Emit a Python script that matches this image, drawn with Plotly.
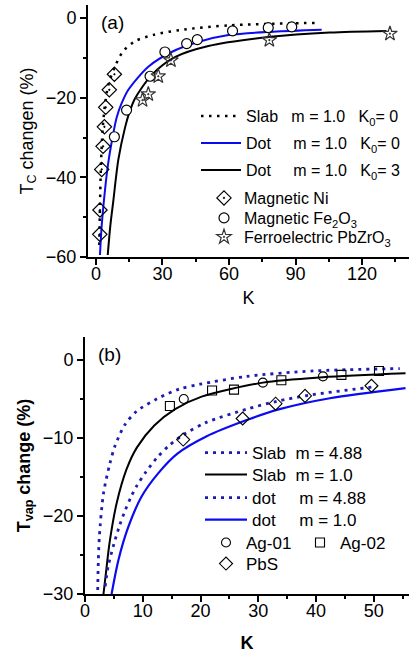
import plotly.graph_objects as go

W, H = 410, 656

# ---------------- Panel (a) data ----------------
slab_a_k = [1.5, 1.8, 2.3, 3.0, 4.0, 5.5, 8.5, 12.3, 17.6, 25.9, 37.9, 60.4, 98.8]
slab_a_y = [-57, -47, -36, -28, -22, -17, -12.2, -8.3, -5.8, -4.2, -3.0, -1.8, -1.2]

dot0_a_k = [1.8, 2.6, 4.1, 5.5, 6.8, 9.3, 11.5, 14.6, 23.6, 34.1, 46.1, 60.4, 80.0, 101.8]
dot0_a_y = [-59.5, -52, -43, -36.5, -32, -25.0, -21.5, -18, -12.2, -8.5, -6.0, -4.2, -3.4, -2.9]

dot3_a_k = [5.3, 6.5, 7.8, 10.1, 13.1, 15.0, 17.6, 25.1, 35.6, 50.7, 78.5, 105.5, 131.0]
dot3_a_y = [-59.5, -52, -46, -35.5, -27.5, -23.8, -20.2, -14.3, -9.8, -7.0, -4.7, -3.6, -3.2]

ni_k = [8.3, 6.0, 4.4, 3.8, 3.2, 2.6, 1.8, 1.7]
ni_y = [-14.1, -18.0, -22.4, -27.3, -32.2, -38.0, -48.2, -54.3]

fe_k = [8.3, 13.8, 24.4, 31.1, 40.9, 45.7, 61.6, 77.7, 88.3]
fe_y = [-29.8, -23.1, -14.6, -8.5, -6.4, -5.4, -3.2, -2.4, -2.2]

pzo_k = [21.0, 23.6, 28.1, 33.8, 78.2, 132.6]
pzo_y = [-20.6, -19.1, -14.6, -10.6, -5.5, -3.9]

# ---------------- Panel (b) data ----------------
slab488_k = [2.2, 2.3, 2.5, 3.2, 4.3, 5.2, 6.9, 8.9, 12.4, 16.4, 19.9, 28.0, 39.5, 54.5]
slab488_y = [-29.5, -26, -22.5, -17.1, -13.3, -11.0, -8.3, -6.6, -5.0, -3.7, -3.1, -2.1, -1.4, -1.1]

slab10_k = [3.2, 3.7, 4.3, 5.5, 7.2, 9.0, 12.0, 15.6, 20.2, 30.8, 41.2, 55.5]
slab10_y = [-30, -26.8, -23.2, -18.3, -14.0, -11.2, -8.4, -6.3, -4.7, -2.9, -2.2, -1.7]

dot488_k = [3.5, 4.0, 5.0, 6.0, 7.0, 8.0, 9.0, 10.5, 12.5, 14.5, 17.0, 21.0, 28.0, 33.2, 38.9, 50.5]
dot488_y = [-29, -26.5, -23.6, -21.2, -19.2, -17.5, -16.1, -14.4, -12.5, -11.0, -9.6, -8.0, -6.3, -5.3, -4.5, -3.4]

dot10_k = [4.6, 5.8, 7.5, 9.8, 12.7, 16.0, 21.0, 28.0, 33.7, 42.4, 55.5]
dot10_y = [-30, -25.6, -21.4, -17.5, -14.5, -12.0, -9.8, -7.7, -6.3, -4.9, -3.6]

ag01_k = [17.1, 30.8, 41.2]
ag01_y = [-5.0, -2.9, -2.1]

ag02_k = [14.7, 22.0, 25.8, 34.0, 44.4, 50.9]
ag02_y = [-5.9, -3.9, -3.8, -2.6, -1.9, -1.4]

pbs_k = [17.0, 27.3, 33.0, 38.1, 49.6]
pbs_y = [-10.2, -7.5, -5.6, -4.6, -3.3]

FONT = "Arial, Liberation Sans, sans-serif"
BLUE = "#0b0bf0"
NAVY = "#1c1cb4"
NB = "\u00a0"

fig = go.Figure()

def add(k, y, name, leg, ax, **kw):
    fig.add_trace(go.Scatter(x=k, y=y, name=name, legend=leg, xaxis="x" + ax, yaxis="y" + ax, **kw))

def spl(color, width, dash="solid"):
    return dict(color=color, width=width, dash=dash, shape="spline", smoothing=0.8)

# ---- panel (a) traces ----
add(slab_a_k, slab_a_y, "Slab" + NB*3 + "m = 1.0" + NB*3 + "K<sub>0</sub>= 0", "legend", "",
    mode="lines", line=spl("black", 2.5, "2.5px,5.5px"))
add(dot0_a_k, dot0_a_y, "Dot" + NB*5 + "m = 1.0" + NB*3 + "K<sub>0</sub>= 0", "legend2", "",
    mode="lines", line=spl(BLUE, 2))
add(dot3_a_k, dot3_a_y, "Dot" + NB*5 + "m = 1.0" + NB*3 + "K<sub>0</sub>= 3", "legend3", "",
    mode="lines", line=spl("black", 2))
add(ni_k, ni_y, "Magnetic Ni", "legend4", "",
    mode="markers", marker=dict(symbol="diamond-open-dot", size=11, color="black", line=dict(width=1.2)))
add(fe_k, fe_y, "Magnetic Fe<sub>2</sub>O<sub>3</sub>", "legend5", "",
    mode="markers", marker=dict(symbol="circle", size=10, color="white", line=dict(width=1.2, color="black")))
add(pzo_k, pzo_y, "Ferroelectric PbZrO<sub>3</sub>", "legend6", "",
    mode="markers", marker=dict(symbol="star-open-dot", size=11, color="#333333", line=dict(width=1.2)))

# ---- panel (b) traces ----
add(slab488_k, slab488_y, "Slab" + NB*2 + "m = 4.88", "legend7", "2",
    mode="lines", line=spl(NAVY, 2.8, "3px,5px"))
add(slab10_k, slab10_y, "Slab" + NB*2 + "m = 1.0", "legend8", "2",
    mode="lines", line=spl("black", 2))
add(dot488_k, dot488_y, "dot" + NB*5 + "m = 4.88", "legend9", "2",
    mode="lines", line=spl(NAVY, 2.8, "3px,5px"))
add(dot10_k, dot10_y, "dot" + NB*5 + "m = 1.0", "legend10", "2",
    mode="lines", line=spl(BLUE, 2.2))
add(ag01_k, ag01_y, "Ag-01", "legend11", "2",
    mode="markers", marker=dict(symbol="circle-open", size=9, color="black", line=dict(width=1.1)))
add(ag02_k, ag02_y, "Ag-02", "legend12", "2",
    mode="markers", marker=dict(symbol="square-open", size=9, color="black", line=dict(width=1.1)))
add(pbs_k, pbs_y, "PbS", "legend13", "2",
    mode="markers", marker=dict(symbol="diamond-open", size=10, color="black", line=dict(width=1.1)))


def px_x(p):
    return p / W


def px_y(p):
    return 1 - p / H


axis_common = dict(showline=True, linecolor="black", linewidth=2, ticks="outside", ticklen=6, tickwidth=2,
                   tickcolor="black", showgrid=False, zeroline=False, mirror=False,
                   tickfont=dict(family=FONT, size=18, color="black"))


def leg(xp, yp, size, iw=30):
    return dict(x=px_x(xp), y=px_y(yp), xanchor="left", yanchor="middle", bgcolor="rgba(0,0,0,0)",
                font=dict(family=FONT, size=size, color="black"), itemclick=False, itemdoubleclick=False,
                itemwidth=iw)


layout_legends = {
    "legend": leg(196, 116, 16, 40),
    "legend2": leg(196, 143, 16, 40),
    "legend3": leg(196, 170, 16, 40),
    "legend4": leg(204, 198, 16),
    "legend5": leg(204, 218, 16),
    "legend6": leg(204, 237, 16),
    "legend7": leg(200, 453, 17, 42),
    "legend8": leg(200, 475, 17, 42),
    "legend9": leg(200, 498, 17, 42),
    "legend10": leg(200, 520, 17, 42),
    "legend11": leg(206, 543, 17),
    "legend12": leg(300, 543, 17),
    "legend13": leg(206, 564, 17),
}

fig.update_layout(
    width=W, height=H,
    margin=dict(l=0, r=0, t=0, b=0, autoexpand=False),
    paper_bgcolor="white", plot_bgcolor="white",
    font=dict(family=FONT, size=16, color="black"),
    showlegend=True,
    xaxis=dict(domain=[px_x(88), px_x(409)], range=[-3.6, 141.2], tickvals=[0, 30, 60, 90, 120], anchor="y",
               minor=dict(ticks="outside", ticklen=3, tickwidth=2, tickvals=[15, 45, 75, 105, 135], tickcolor="black"),
               title=dict(text="K", font=dict(family=FONT, size=18), standoff=9), **axis_common),
    yaxis=dict(domain=[px_y(257), px_y(5)], range=[-60, 3.3], tickvals=[0, -20, -40, -60], anchor="x",
               minor=dict(ticks="outside", ticklen=3, tickwidth=2, tickvals=[-10, -30, -50], tickcolor="black"),
               title=dict(text="T<sub>C</sub> changen (%)", font=dict(family=FONT, size=18), standoff=8), **axis_common),
    xaxis2=dict(domain=[px_x(85), px_x(409)], range=[0, 56.1], tickvals=[0, 10, 20, 30, 40, 50], anchor="y2",
                minor=dict(ticks="outside", ticklen=3, tickwidth=2, tickvals=[5, 15, 25, 35, 45, 55], tickcolor="black"),
                title=dict(text="<b>K</b>", font=dict(family=FONT, size=18), standoff=17), **axis_common),
    yaxis2=dict(domain=[px_y(594), px_y(337)], range=[-30, 2.95], tickvals=[0, -10, -20, -30], anchor="x2",
                minor=dict(ticks="outside", ticklen=3, tickwidth=2, tickvals=[-5, -15, -25], tickcolor="black"),
                title=dict(text="<b>T<sub>vap</sub> change (%)</b>", font=dict(family=FONT, size=18), standoff=8), **axis_common),
    annotations=[
        dict(text="(a)", x=px_x(99), y=px_y(22), xref="paper", yref="paper", xanchor="left", yanchor="middle",
             showarrow=False, font=dict(family=FONT, size=19)),
        dict(text="(b)", x=px_x(96), y=px_y(354), xref="paper", yref="paper", xanchor="left", yanchor="middle",
             showarrow=False, font=dict(family=FONT, size=19)),
    ],
    **layout_legends,
)

try:
    fig.update_xaxes(ticklabelstandoff=-7)
except Exception:
    pass

fig.write_html("out.html", config={"displayModeBar": False},
               post_script="document.body.style.margin='0';document.body.style.padding='0';")
